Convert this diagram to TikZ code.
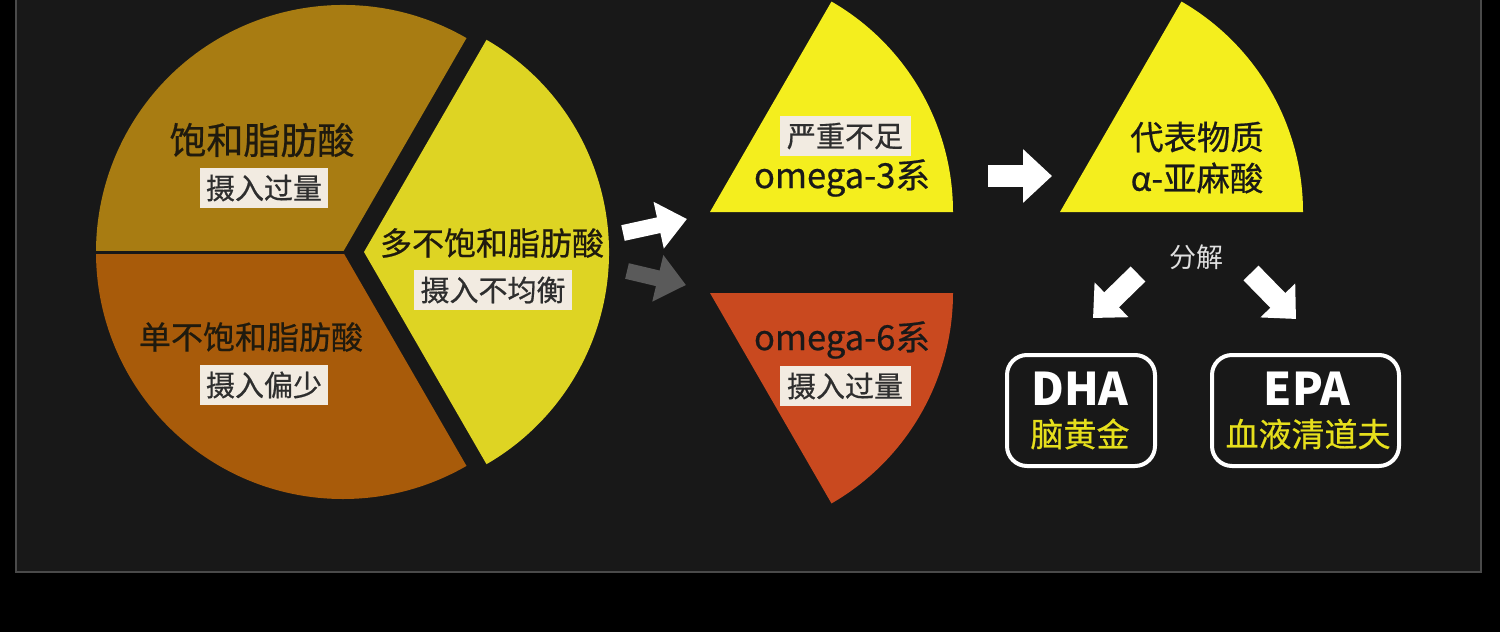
\documentclass[tikz,border=0pt]{standalone}
\usepackage{fontspec}
\setmainfont{Noto Sans CJK SC}
\newfontfamily\medfont[FakeBold=0.6]{Noto Sans CJK SC}
\usetikzlibrary{arrows.meta}
\definecolor{panel}{HTML}{181818}
\definecolor{panelline}{HTML}{4A4A4A}
\definecolor{brownA}{HTML}{A87C12}
\definecolor{brownB}{HTML}{A85B0A}
\definecolor{pieyellow}{HTML}{DED423}
\definecolor{brightyellow}{HTML}{F4EE1E}
\definecolor{omegasix}{HTML}{C9491F}
\definecolor{darktext}{HTML}{1F1A0E}
\definecolor{tagfill}{HTML}{F2EBE1}
\definecolor{tagtext}{HTML}{2E2E2E}
\definecolor{grayarrow}{HTML}{5A5A5A}
\definecolor{boxyellow}{HTML}{E6DF1C}
\begin{document}
\begin{tikzpicture}[x=0.5pt,y=-0.5pt,
  lbl/.style={inner sep=0pt, text=darktext, font=\medfont\fontsize{16}{18}\selectfont},
  tag/.style={fill=tagfill, text=tagtext, inner sep=0pt, minimum height=20pt, font=\medfont\fontsize{14.5}{16}\selectfont},
  blockarrow/.style={line width=8pt, line cap=butt, -{Triangle[width=23pt,length=14.5pt]}},
  bigarrow/.style={line width=11pt, line cap=butt, -{Triangle[width=26pt,length=14.5pt]}},
  diagarrow/.style={line width=10.5pt, line cap=butt, -{Triangle[width=23.5pt,length=13pt]}},
  resultbox/.style={draw=white, line width=2pt, rounded corners=10pt, minimum height=55.5pt, inner sep=0pt},
  bigname/.style={inner sep=0pt, text=white, font=\fontsize{22.5}{24}\selectfont\bfseries},
  smallname/.style={inner sep=0pt, text=boxyellow, font=\medfont\fontsize{16.5}{18}\selectfont}]
\fill[black] (0,0) rectangle (1500,632);
\useasboundingbox (0,0) rectangle (1500,632);
\draw[panelline, fill=panel, line width=1pt] (16,-10) rectangle (1481,572);

% pie chart
\fill[brownA] (343,252) -- ++(-60:247) arc[start angle=-60, end angle=-180, radius=247] -- cycle;
\fill[brownB] (343,252) -- ++(180:247) arc[start angle=180, end angle=60, radius=247] -- cycle;
\draw[panel, line width=1.5pt] (344,252) -- (90,252);
\fill[pieyellow] (364,252) -- ++(-60:245) arc[start angle=-60, end angle=60, radius=245] -- cycle;

\node[lbl, font=\medfont\fontsize{18.5}{20}\selectfont] (sat) at (262,140) {饱和脂肪酸};
\node[tag, minimum width=64pt] (sattag) at (264,188) {摄入过量};
\node[lbl] (mono) at (251,337) {单不饱和脂肪酸};
\node[tag, minimum width=64pt] (monotag) at (264,385) {摄入偏少};
\node[lbl] (poly) at (492,243) {多不饱和脂肪酸};
\node[tag, minimum width=79pt] (polytag) at (493,290) {摄入不均衡};

% omega sectors
\fill[brightyellow] (710,212) -- ++(0:243) arc[start angle=0, end angle=-60, radius=243] -- cycle;
\fill[omegasix] (710,293) -- ++(0:243) arc[start angle=0, end angle=60, radius=243] -- cycle;
\fill[brightyellow] (1060,212) -- ++(0:243) arc[start angle=0, end angle=-60, radius=243] -- cycle;

\node[tag, minimum width=65.5pt] (o3tag) at (845,136) {严重不足};
\node[lbl, text=black!90, font=\medfont\fontsize{17.3}{19}\selectfont] (o3) at (842,178) {omega-3系};
\node[lbl, text=black!90, font=\medfont\fontsize{17.3}{19}\selectfont] (o6) at (842,340) {omega-6系};
\node[tag, minimum width=65.5pt] (o6tag) at (845,386) {摄入过量};
\node[lbl, text=black!90, font=\medfont\fontsize{16.7}{18}\selectfont] (rep) at (1197,137) {代表物质};
\node[lbl, text=black!90, font=\medfont\fontsize{16.7}{18}\selectfont] (ala) at (1197,178) {α-亚麻酸};

% arrows
\coordinate (a1s) at (623,233);
\coordinate (a1e) at (687,219);
\coordinate (a2s) at (627,271);
\coordinate (a2e) at (686,285);
\coordinate (a3s) at (988,176);
\coordinate (a3e) at (1052,176);
\coordinate (a4s) at (1138,274);
\coordinate (a4e) at (1093,318);
\coordinate (a5s) at (1251,273);
\coordinate (a5e) at (1296,319);
\draw[blockarrow, white] (a1s) -- (a1e);
\draw[blockarrow, grayarrow] (a2s) -- (a2e);
\draw[bigarrow, white] (a3s) -- (a3e);
\draw[diagarrow, white] (a4s) -- (a4e);
\draw[diagarrow, white] (a5s) -- (a5e);

\node[inner sep=0pt, text=white!88!black, font=\fontsize{13.5}{15}\selectfont] (split) at (1196,257) {分解};

% result boxes
\node[resultbox, minimum width=74pt] (dhabox) at (1081,410.5) {};
\node[bigname] (dha) at (1080,389) {DHA};
\node[smallname] (dhasub) at (1080,434) {脑黄金};
\node[resultbox, minimum width=93.5pt] (epabox) at (1305.5,410.5) {};
\node[bigname] (epa) at (1307,389) {EPA};
\node[smallname] (epasub) at (1308,434) {血液清道夫};
\end{tikzpicture}
\end{document}
